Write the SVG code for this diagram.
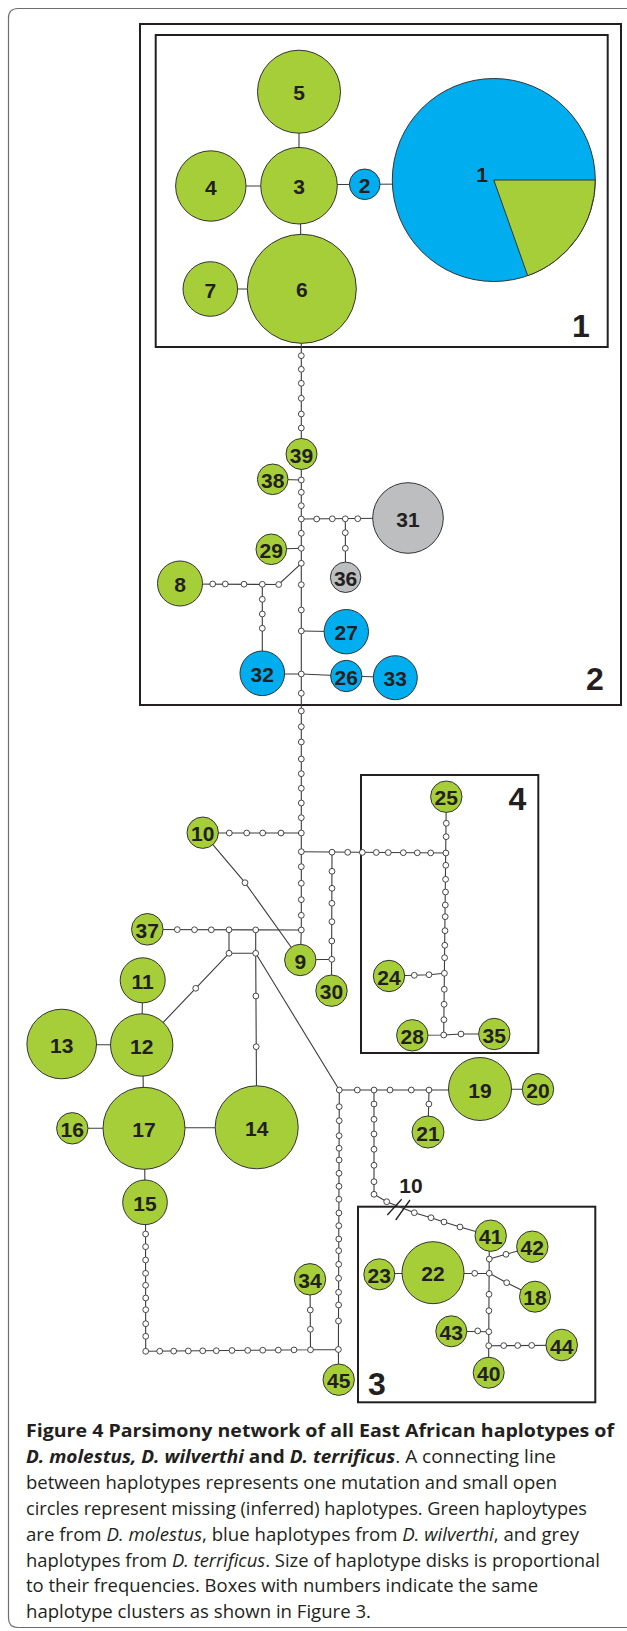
<svg xmlns="http://www.w3.org/2000/svg" width="627" height="1631" viewBox="0 0 627 1631">
<style>
.frame{fill:none;stroke:#6d6e71;stroke-width:1.2}
.box{fill:none;stroke:#231f20;stroke-width:2}
.c{fill:none;stroke:#3c3c3c;stroke-width:1.1}
.m{fill:#fff;stroke:#333;stroke-width:0.9}
.g{fill:#a6ce39;stroke:#333;stroke-width:1}
.b{fill:#00aeef;stroke:#333;stroke-width:1}
.y{fill:#bcbec0;stroke:#333;stroke-width:1}
.lbl{font-family:"Liberation Sans",Arial,sans-serif;font-weight:bold;font-size:21px;fill:#231f20;text-anchor:middle}
.bl{font-family:"Liberation Sans",Arial,sans-serif;font-weight:bold;font-size:32px;fill:#231f20}
.cap{font-family:"Open Sans","Noto Sans",sans-serif;font-size:18.5px;fill:#231f20}
.bd{font-weight:bold}
.it{font-style:italic}
</style>
<path class="frame" d="M627,8.5 H18 Q8.5,8.5 8.5,18 V1618 Q8.5,1627.5 18,1627.5 H627"/>
<g id="boxes">
<rect class="box" x="140" y="24" width="481" height="681"/>
<rect class="box" x="155.7" y="35" width="452" height="312"/>
<rect class="box" x="361" y="775" width="177.3" height="278"/>
<rect class="box" x="358" y="1206.7" width="237.3" height="195.6"/>
<text class="bl" x="572" y="336.7">1</text>
<text class="bl" x="586" y="690">2</text>
<text class="bl" x="368" y="1395">3</text>
<text class="bl" x="508.5" y="810">4</text>
</g>
<g id="connectors">
<path class="c" d="M299,91.7 V185.7 M210.8,186 H299 M299,185 L364.7,184.3 L440,184 M300,185.7 L301.5,288.8 M210.3,289 H301.5"/>
<path class="c" d="M301.3,289 V930 L300.3,960"/>
<path class="c" d="M272.7,479.3 L301.3,480 M301.3,519 L408,518 M345.3,519 L345.5,577.3 M271.3,549.3 L301.3,548.3 M180,584 L278.7,584.5 L301.3,563.3 M262.3,584 V673.3 M301.3,631 L346.3,631.7 M262.3,674 L301.3,674 L346.3,676 L395.3,677.5"/>
<path class="c" d="M202.7,833 H301.3 M202.7,832.7 L245,882.7 L300.3,960 M301.3,851.7 L446,853 M332,852.2 L331.5,990.7 M300.3,960 L332,959.3"/>
<path class="c" d="M446.3,796.7 L443.7,1035 M389,976 L414.3,975.3 L429,974.7 L444.4,973.3 M412.3,1035.3 L443.7,1035 L461,1034 L494.3,1034"/>
<path class="c" d="M147.3,929.5 L301.3,930 M229,930.5 V953.3 H255.7 M255.7,930.6 V953.3 M229,953.3 L141.7,1045 M255.7,953.3 L256.7,1127.3 M255.7,953.3 L339.3,1090"/>
<path class="c" d="M142.7,980.3 L141.7,1045 M61.7,1044.5 L141.7,1045 M142.5,1045 L144,1128.3 M72.3,1128.3 H144 M144,1127.7 H256.7 M144.5,1128.3 L145,1202.3"/>
<path class="c" d="M145.5,1202.3 L145.7,1351.3 L338.4,1349.5 M310,1279.3 L310.5,1350 M339.3,1090 L338.4,1349.5 L338.6,1379.7"/>
<path class="c" d="M339.3,1090 H480 M480,1089.3 H538 M429,1090 L428,1132"/>
<path class="c" d="M374,1090 V1194.3 L386.7,1201.7 L414.3,1212.7 L431,1217.7 L444,1222 L460,1227 L490.7,1235.7"/>
<path class="c" d="M489.3,1235.7 L488.6,1372.7 M489.3,1259 L506,1254.3 L532.3,1246.7 M489.3,1273.3 L506.7,1282.7 L535,1296.7 M379.3,1273.5 L489.3,1273.3 M451.3,1331.3 L488.3,1331.7 M488.3,1345.7 L561.7,1345.3"/>
<path class="c" d="M387.3,1215 L401.7,1199.3 M395.7,1220 L410,1200" style="stroke:#231f20;stroke-width:1.3"/>
</g>
<g id="inferred-haplotypes">
<g id="main-vertical">
<circle class="m" cx="301.3" cy="355.7" r="2.9"/><circle class="m" cx="301.3" cy="369.3" r="2.9"/><circle class="m" cx="301.3" cy="383.3" r="2.9"/><circle class="m" cx="301.3" cy="398.3" r="2.9"/><circle class="m" cx="301.3" cy="414" r="2.9"/><circle class="m" cx="301.3" cy="428" r="2.9"/>
<circle class="m" cx="301.3" cy="480" r="2.9"/><circle class="m" cx="301.3" cy="492.3" r="2.9"/><circle class="m" cx="301.3" cy="505.7" r="2.9"/><circle class="m" cx="301.3" cy="519" r="2.9"/><circle class="m" cx="301.3" cy="533.3" r="2.9"/><circle class="m" cx="301.3" cy="548.3" r="2.9"/><circle class="m" cx="301.3" cy="563.3" r="2.9"/><circle class="m" cx="301.3" cy="584.7" r="2.9"/><circle class="m" cx="301.3" cy="610" r="2.9"/><circle class="m" cx="301.3" cy="631" r="2.9"/><circle class="m" cx="301.3" cy="674" r="2.9"/>
<circle class="m" cx="301.3" cy="693.3" r="2.9"/><circle class="m" cx="301.3" cy="711" r="2.9"/><circle class="m" cx="301.3" cy="726.7" r="2.9"/><circle class="m" cx="301.3" cy="742" r="2.9"/><circle class="m" cx="301.3" cy="759" r="2.9"/><circle class="m" cx="301.3" cy="773.7" r="2.9"/><circle class="m" cx="301.3" cy="788.3" r="2.9"/><circle class="m" cx="301.3" cy="803" r="2.9"/><circle class="m" cx="301.3" cy="817.7" r="2.9"/><circle class="m" cx="301.3" cy="833" r="2.9"/><circle class="m" cx="301.3" cy="851.7" r="2.9"/><circle class="m" cx="301.3" cy="866.7" r="2.9"/><circle class="m" cx="301.3" cy="883.3" r="2.9"/><circle class="m" cx="301.3" cy="899.7" r="2.9"/><circle class="m" cx="301.3" cy="915.3" r="2.9"/><circle class="m" cx="301.3" cy="930" r="2.9"/>
</g>
<g id="box2-branches">
<circle class="m" cx="316.7" cy="519" r="2.9"/><circle class="m" cx="332.3" cy="518.8" r="2.9"/><circle class="m" cx="345.3" cy="518.8" r="2.9"/><circle class="m" cx="357.7" cy="518.7" r="2.9"/>
<circle class="m" cx="345.3" cy="532.7" r="2.9"/><circle class="m" cx="345.3" cy="548.3" r="2.9"/>
<circle class="m" cx="212.7" cy="584" r="2.9"/><circle class="m" cx="225.3" cy="584" r="2.9"/><circle class="m" cx="244" cy="584.2" r="2.9"/><circle class="m" cx="262.3" cy="584.3" r="2.9"/><circle class="m" cx="278.7" cy="584.5" r="2.9"/>
<circle class="m" cx="262.3" cy="599.3" r="2.9"/><circle class="m" cx="262.3" cy="614" r="2.9"/><circle class="m" cx="262.3" cy="628.3" r="2.9"/>
</g>
<g id="mid-branches">
<circle class="m" cx="229.3" cy="833" r="2.9"/><circle class="m" cx="246.7" cy="833" r="2.9"/><circle class="m" cx="262.7" cy="833" r="2.9"/><circle class="m" cx="281" cy="833" r="2.9"/>
<circle class="m" cx="245" cy="882.7" r="2.9"/>
<circle class="m" cx="332" cy="852.2" r="2.9"/><circle class="m" cx="347.7" cy="852.3" r="2.9"/><circle class="m" cx="362.3" cy="852.4" r="2.9"/><circle class="m" cx="376.3" cy="852.5" r="2.9"/><circle class="m" cx="388.3" cy="852.6" r="2.9"/><circle class="m" cx="403.3" cy="852.7" r="2.9"/><circle class="m" cx="417.3" cy="852.8" r="2.9"/><circle class="m" cx="430.7" cy="852.9" r="2.9"/><circle class="m" cx="445.9" cy="853" r="2.9"/>
<circle class="m" cx="332" cy="871.3" r="2.9"/><circle class="m" cx="332" cy="888.3" r="2.9"/><circle class="m" cx="331.9" cy="903.3" r="2.9"/><circle class="m" cx="331.9" cy="921.7" r="2.9"/><circle class="m" cx="331.8" cy="941" r="2.9"/><circle class="m" cx="331.8" cy="959.3" r="2.9"/>
<circle class="m" cx="446.3" cy="823.3" r="2.9"/><circle class="m" cx="446.1" cy="836.7" r="2.9"/><circle class="m" cx="445.8" cy="865.3" r="2.9"/><circle class="m" cx="445.6" cy="879.3" r="2.9"/><circle class="m" cx="445.5" cy="892" r="2.9"/><circle class="m" cx="445.3" cy="905" r="2.9"/><circle class="m" cx="445.2" cy="916.7" r="2.9"/><circle class="m" cx="445" cy="930.7" r="2.9"/><circle class="m" cx="444.8" cy="945.3" r="2.9"/><circle class="m" cx="444.6" cy="957.7" r="2.9"/><circle class="m" cx="444.4" cy="973.3" r="2.9"/><circle class="m" cx="444.3" cy="989.3" r="2.9"/><circle class="m" cx="444.1" cy="1004.3" r="2.9"/><circle class="m" cx="443.9" cy="1019.7" r="2.9"/><circle class="m" cx="443.7" cy="1035" r="2.9"/>
<circle class="m" cx="414.3" cy="975.3" r="2.9"/><circle class="m" cx="429" cy="974.7" r="2.9"/><circle class="m" cx="461" cy="1034" r="2.9"/>
<circle class="m" cx="177.3" cy="929.6" r="2.9"/><circle class="m" cx="194.5" cy="929.7" r="2.9"/><circle class="m" cx="211.3" cy="929.8" r="2.9"/><circle class="m" cx="229" cy="929.8" r="2.9"/><circle class="m" cx="255.7" cy="929.9" r="2.9"/>
<circle class="m" cx="229" cy="953.3" r="2.9"/><circle class="m" cx="255.7" cy="953.3" r="2.9"/><circle class="m" cx="195.7" cy="988.3" r="2.9"/><circle class="m" cx="255.9" cy="996" r="2.9"/><circle class="m" cx="256.2" cy="1046.7" r="2.9"/>
</g>
<g id="lower-branches">
<circle class="m" cx="339.3" cy="1090" r="2.9"/><circle class="m" cx="357.3" cy="1090" r="2.9"/><circle class="m" cx="374" cy="1090" r="2.9"/><circle class="m" cx="390" cy="1090" r="2.9"/><circle class="m" cx="411.3" cy="1090" r="2.9"/><circle class="m" cx="429" cy="1090" r="2.9"/><circle class="m" cx="428.9" cy="1104" r="2.9"/>
<circle class="m" cx="374" cy="1104" r="2.9"/><circle class="m" cx="374" cy="1119.3" r="2.9"/><circle class="m" cx="374" cy="1134" r="2.9"/><circle class="m" cx="374" cy="1149.3" r="2.9"/><circle class="m" cx="374" cy="1165.3" r="2.9"/><circle class="m" cx="374" cy="1181.7" r="2.9"/><circle class="m" cx="374" cy="1194.3" r="2.9"/><circle class="m" cx="386.7" cy="1201.7" r="2.9"/>
<circle class="m" cx="339.2" cy="1106.7" r="2.9"/><circle class="m" cx="339.2" cy="1120.7" r="2.9"/><circle class="m" cx="339.1" cy="1135.7" r="2.9"/><circle class="m" cx="339.1" cy="1148.3" r="2.9"/><circle class="m" cx="339.1" cy="1160" r="2.9"/><circle class="m" cx="339" cy="1173.3" r="2.9"/><circle class="m" cx="339" cy="1186.3" r="2.9"/><circle class="m" cx="338.9" cy="1199.3" r="2.9"/><circle class="m" cx="338.9" cy="1213" r="2.9"/><circle class="m" cx="338.8" cy="1225.7" r="2.9"/><circle class="m" cx="338.8" cy="1239" r="2.9"/><circle class="m" cx="338.7" cy="1250.7" r="2.9"/><circle class="m" cx="338.7" cy="1264.3" r="2.9"/><circle class="m" cx="338.6" cy="1278.3" r="2.9"/><circle class="m" cx="338.6" cy="1292.3" r="2.9"/><circle class="m" cx="338.6" cy="1305" r="2.9"/><circle class="m" cx="338.5" cy="1321" r="2.9"/><circle class="m" cx="338.4" cy="1349.5" r="2.9"/>
<circle class="m" cx="145.6" cy="1234" r="2.9"/><circle class="m" cx="145.6" cy="1246.7" r="2.9"/><circle class="m" cx="145.6" cy="1260" r="2.9"/><circle class="m" cx="145.6" cy="1273.3" r="2.9"/><circle class="m" cx="145.6" cy="1285.3" r="2.9"/><circle class="m" cx="145.7" cy="1298" r="2.9"/><circle class="m" cx="145.7" cy="1309.7" r="2.9"/><circle class="m" cx="145.7" cy="1323.7" r="2.9"/><circle class="m" cx="145.7" cy="1336.3" r="2.9"/><circle class="m" cx="145.7" cy="1351.3" r="2.9"/>
<circle class="m" cx="159.7" cy="1351.2" r="2.9"/><circle class="m" cx="173.7" cy="1351.1" r="2.9"/><circle class="m" cx="188.3" cy="1351" r="2.9"/><circle class="m" cx="202.7" cy="1350.8" r="2.9"/><circle class="m" cx="216.3" cy="1350.7" r="2.9"/><circle class="m" cx="232" cy="1350.5" r="2.9"/><circle class="m" cx="247.7" cy="1350.4" r="2.9"/><circle class="m" cx="262.7" cy="1350.2" r="2.9"/><circle class="m" cx="278.3" cy="1350.1" r="2.9"/><circle class="m" cx="294" cy="1349.9" r="2.9"/><circle class="m" cx="310.5" cy="1349.8" r="2.9"/>
<circle class="m" cx="310.3" cy="1310" r="2.9"/><circle class="m" cx="310.4" cy="1329.3" r="2.9"/>
</g>
<g id="box3-branches">
<circle class="m" cx="414.3" cy="1212.7" r="2.9"/><circle class="m" cx="431" cy="1217.7" r="2.9"/><circle class="m" cx="444" cy="1222" r="2.9"/><circle class="m" cx="460" cy="1227" r="2.9"/>
<circle class="m" cx="489.3" cy="1259" r="2.9"/><circle class="m" cx="489.2" cy="1273.3" r="2.9"/><circle class="m" cx="489" cy="1294.3" r="2.9"/><circle class="m" cx="488.9" cy="1310.7" r="2.9"/><circle class="m" cx="488.8" cy="1331.7" r="2.9"/><circle class="m" cx="488.7" cy="1345.7" r="2.9"/>
<circle class="m" cx="506" cy="1254.3" r="2.9"/><circle class="m" cx="506.7" cy="1282.7" r="2.9"/><circle class="m" cx="474.7" cy="1273.3" r="2.9"/><circle class="m" cx="477.7" cy="1330.9" r="2.9"/>
<circle class="m" cx="503.7" cy="1345.6" r="2.9"/><circle class="m" cx="517.7" cy="1345.5" r="2.9"/><circle class="m" cx="531.7" cy="1345.4" r="2.9"/>
</g>
</g>
<g id="h1"><circle class="b" cx="493.8" cy="180" r="101.5"/><path class="g" d="M493.8,180 H595.3 A101.5,101.5 0 0 1 527.7,275.7 Z"/><text class="lbl" x="482" y="181.7">1</text></g>
<g id="h2"><circle class="b" cx="364.7" cy="184.3" r="15.3"/><text class="lbl" x="364.7" y="192.8">2</text></g>
<g id="h3"><circle class="g" cx="299" cy="185.7" r="38.3"/><text class="lbl" x="299" y="194.2">3</text></g>
<g id="h4"><circle class="g" cx="210.8" cy="186" r="35.2"/><text class="lbl" x="210.8" y="194.5">4</text></g>
<g id="h5"><circle class="g" cx="299" cy="91.7" r="41.5"/><text class="lbl" x="299" y="100.2">5</text></g>
<g id="h6"><circle class="g" cx="301.8" cy="288.8" r="54.5"/><text class="lbl" x="301.8" y="297.3">6</text></g>
<g id="h7"><circle class="g" cx="210.3" cy="289" r="27.3"/><text class="lbl" x="210.3" y="297.5">7</text></g>
<g id="h8"><circle class="g" cx="180" cy="583.5" r="22.5"/><text class="lbl" x="180" y="592">8</text></g>
<g id="h9"><circle class="g" cx="300.3" cy="960" r="15.7"/><text class="lbl" x="300.3" y="968.5">9</text></g>
<g id="h10"><circle class="g" cx="202.7" cy="832.7" r="15.7"/><text class="lbl" x="202.7" y="841.2">10</text></g>
<g id="h11"><circle class="g" cx="142.7" cy="980.3" r="22.5"/><text class="lbl" x="142.7" y="988.8">11</text></g>
<g id="h12"><circle class="g" cx="141.7" cy="1045" r="31.2"/><text class="lbl" x="141.7" y="1053.5">12</text></g>
<g id="h13"><circle class="g" cx="61.7" cy="1044" r="34.8"/><text class="lbl" x="61.7" y="1052.5">13</text></g>
<g id="h14"><circle class="g" cx="256.7" cy="1127.3" r="41.5"/><text class="lbl" x="256.7" y="1135.8">14</text></g>
<g id="h15"><circle class="g" cx="145" cy="1202.3" r="22.3"/><text class="lbl" x="145" y="1210.8">15</text></g>
<g id="h16"><circle class="g" cx="72.3" cy="1128.3" r="15.7"/><text class="lbl" x="72.3" y="1136.8">16</text></g>
<g id="h17"><circle class="g" cx="144" cy="1128.3" r="41"/><text class="lbl" x="144" y="1136.8">17</text></g>
<g id="h18"><circle class="g" cx="535" cy="1296.7" r="15.5"/><text class="lbl" x="535" y="1305.2">18</text></g>
<g id="h19"><circle class="g" cx="480" cy="1089" r="31.5"/><text class="lbl" x="480" y="1097.5">19</text></g>
<g id="h20"><circle class="g" cx="538" cy="1089.3" r="15.7"/><text class="lbl" x="538" y="1097.8">20</text></g>
<g id="h21"><circle class="g" cx="428" cy="1132" r="16"/><text class="lbl" x="428" y="1140.5">21</text></g>
<g id="h22"><circle class="g" cx="433" cy="1272.7" r="31"/><text class="lbl" x="433" y="1281.2">22</text></g>
<g id="h23"><circle class="g" cx="379.3" cy="1274.3" r="15.5"/><text class="lbl" x="379.3" y="1282.8">23</text></g>
<g id="h24"><circle class="g" cx="389" cy="976" r="15.7"/><text class="lbl" x="389" y="984.5">24</text></g>
<g id="h25"><circle class="g" cx="446.3" cy="796.7" r="15.7"/><text class="lbl" x="446.3" y="805.2">25</text></g>
<g id="h26"><circle class="b" cx="346.3" cy="676" r="15.7"/><text class="lbl" x="346.3" y="684.5">26</text></g>
<g id="h27"><circle class="b" cx="346.3" cy="631.7" r="22.2"/><text class="lbl" x="346.3" y="640.2">27</text></g>
<g id="h28"><circle class="g" cx="412.3" cy="1035.3" r="15.7"/><text class="lbl" x="412.3" y="1043.8">28</text></g>
<g id="h29"><circle class="g" cx="271.3" cy="549.3" r="15.3"/><text class="lbl" x="271.3" y="557.8">29</text></g>
<g id="h30"><circle class="g" cx="331.5" cy="990.7" r="15.7"/><text class="lbl" x="331.5" y="999.2">30</text></g>
<g id="h31"><circle class="y" cx="408" cy="518" r="35.3"/><text class="lbl" x="408" y="526.5">31</text></g>
<g id="h32"><circle class="b" cx="262.3" cy="673.3" r="22.3"/><text class="lbl" x="262.3" y="681.8">32</text></g>
<g id="h33"><circle class="b" cx="395.3" cy="677.7" r="22"/><text class="lbl" x="395.3" y="686.2">33</text></g>
<g id="h34"><circle class="g" cx="310" cy="1279.3" r="15.7"/><text class="lbl" x="310" y="1287.8">34</text></g>
<g id="h35"><circle class="g" cx="494.3" cy="1034" r="15.7"/><text class="lbl" x="494.3" y="1042.5">35</text></g>
<g id="h36"><circle class="y" cx="345.6" cy="577.3" r="15.2"/><text class="lbl" x="345.6" y="585.8">36</text></g>
<g id="h37"><circle class="g" cx="147.3" cy="929.3" r="15.8"/><text class="lbl" x="147.3" y="937.8">37</text></g>
<g id="h38"><circle class="g" cx="272.7" cy="479.3" r="15.3"/><text class="lbl" x="272.7" y="487.8">38</text></g>
<g id="h39"><circle class="g" cx="301.5" cy="454" r="15.5"/><text class="lbl" x="301.5" y="462.5">39</text></g>
<g id="h40"><circle class="g" cx="488.7" cy="1372.7" r="15.5"/><text class="lbl" x="488.7" y="1381.2">40</text></g>
<g id="h41"><circle class="g" cx="490.7" cy="1235.7" r="15.7"/><text class="lbl" x="490.7" y="1244.2">41</text></g>
<g id="h42"><circle class="g" cx="532.3" cy="1246.7" r="15.7"/><text class="lbl" x="532.3" y="1255.2">42</text></g>
<g id="h43"><circle class="g" cx="451.3" cy="1331.3" r="15.5"/><text class="lbl" x="451.3" y="1339.8">43</text></g>
<g id="h44"><circle class="g" cx="561.7" cy="1345" r="15.8"/><text class="lbl" x="561.7" y="1353.5">44</text></g>
<g id="h45"><circle class="g" cx="338.7" cy="1379.7" r="15.7"/><text class="lbl" x="338.7" y="1388.2">45</text></g>
<text class="lbl" x="411" y="1193.3">10</text>
<g id="caption" class="cap">
<text x="26" y="1436.7" textLength="588" lengthAdjust="spacingAndGlyphs" class="bd">Figure 4 Parsimony network of all East African haplotypes of</text>
<text x="26" y="1462.7" textLength="530" lengthAdjust="spacingAndGlyphs"><tspan class="bd it">D. molestus, D. wilverthi</tspan><tspan class="bd"> and </tspan><tspan class="bd it">D. terrificus</tspan>. A connecting line</text>
<text x="26" y="1488.6" textLength="531" lengthAdjust="spacingAndGlyphs">between haplotypes represents one mutation and small open</text>
<text x="26" y="1514.6" textLength="561" lengthAdjust="spacingAndGlyphs">circles represent missing (inferred) haplotypes. Green haploytypes</text>
<text x="26" y="1540.5" textLength="553" lengthAdjust="spacingAndGlyphs">are from <tspan class="it">D. molestus</tspan>, blue haplotypes from <tspan class="it">D. wilverthi</tspan>, and grey</text>
<text x="26" y="1566.5" textLength="574" lengthAdjust="spacingAndGlyphs">haplotypes from <tspan class="it">D. terrificus</tspan>. Size of haplotype disks is proportional</text>
<text x="26" y="1592.4" textLength="512" lengthAdjust="spacingAndGlyphs">to their frequencies. Boxes with numbers indicate the same</text>
<text x="26" y="1618.4" textLength="345" lengthAdjust="spacingAndGlyphs">haplotype clusters as shown in Figure 3.</text>
</g>
</svg>
